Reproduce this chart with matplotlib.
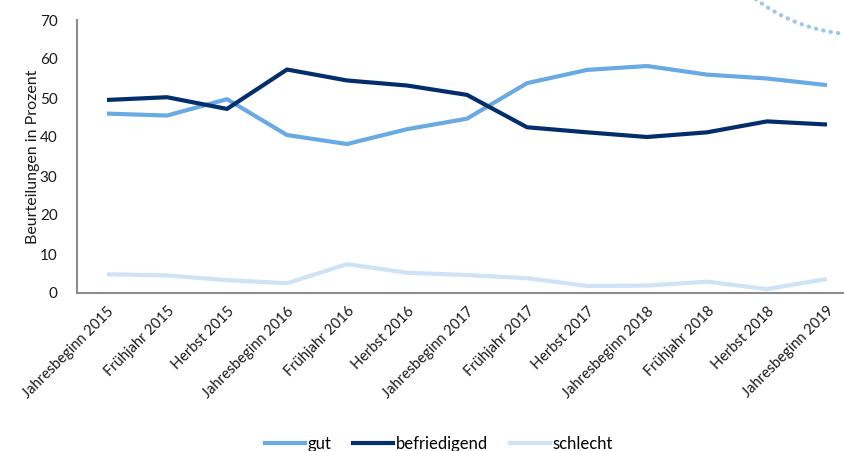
import numpy as np
import matplotlib.pyplot as plt
from matplotlib.lines import Line2D

plt.rcParams['font.family'] = ['Lato', 'DejaVu Sans']

perioden = ['Jahresbeginn 2015', 'Frühjahr 2015', 'Herbst 2015',
            'Jahresbeginn 2016', 'Frühjahr 2016', 'Herbst 2016',
            'Jahresbeginn 2017', 'Frühjahr 2017', 'Herbst 2017',
            'Jahresbeginn 2018', 'Frühjahr 2018', 'Herbst 2018',
            'Jahresbeginn 2019']
gut = [46.0, 45.5, 49.7, 40.5, 38.2, 42.0, 44.7, 53.8, 57.2, 58.2, 56.0, 55.0, 53.3]
befriedigend = [49.5, 50.2, 47.2, 57.3, 54.5, 53.2, 50.8, 42.5, 41.2, 40.0, 41.2, 44.0, 43.2]
schlecht = [4.8, 4.5, 3.3, 2.5, 7.4, 5.2, 4.6, 3.8, 1.8, 1.9, 2.9, 1.0, 3.6]

c_gut = '#6aaae4'
c_bef = '#022e6b'
c_sch = '#cfe3f7'

fig = plt.figure(figsize=(8.44, 4.51), dpi=100)
ax = fig.add_axes([77 / 844, 1 - 293 / 451, 780 / 844, 273 / 451])

x = np.arange(len(perioden))
ax.plot(x, gut, color=c_gut, lw=3, label='gut', solid_capstyle='butt')
ax.plot(x, befriedigend, color=c_bef, lw=3, label='befriedigend', solid_capstyle='butt')
ax.plot(x, schlecht, color=c_sch, lw=3, label='schlecht', solid_capstyle='butt')

ax.set_xlim(-0.5, len(perioden) - 0.5)
ax.set_ylim(0, 70)
ax.set_yticks(range(0, 71, 10))
ax.set_xticks(x)
ax.set_xticklabels(perioden, rotation=45, ha='right', rotation_mode='anchor',
                   fontsize=10.5, color='#1a1a1a')
ax.tick_params(axis='y', length=0, labelsize=11, colors='#1a1a1a', pad=14)
ax.tick_params(axis='x', length=0, pad=8)
for s in ['top', 'right']:
    ax.spines[s].set_visible(False)
for s in ['left', 'bottom']:
    ax.spines[s].set_color('#8c8c8c')
    ax.spines[s].set_linewidth(1.5)
ax.set_ylabel('Beurteilungen in Prozent', fontsize=11.5, color='#1a1a1a', labelpad=0)

handles = [Line2D([], [], color=c, lw=3) for c in (c_gut, c_bef, c_sch)]
fig.legend(handles, ['gut', 'befriedigend', 'schlecht'], loc='lower center',
           bbox_to_anchor=(0.52, -0.035), ncol=3, frameon=False, fontsize=12,
           handlelength=2.4, handletextpad=0.15, columnspacing=1.3)

# decorative dotted arc in the top right corner
t = np.linspace(np.pi * 0.72, np.pi * 0.5, 80)
cx, cy, r = 860, 451 + 136.5, 171
arc_x = (cx + r * np.cos(t)) / 844
arc_y = (cy - r * np.sin(t)) / 451
fig.add_artist(Line2D(arc_x, arc_y, transform=fig.transFigure, color='#9cc8ef',
                      lw=3, linestyle=(0, (0.1, 1.7)), dash_capstyle='round'))

fig.savefig('out.png', dpi=100)
